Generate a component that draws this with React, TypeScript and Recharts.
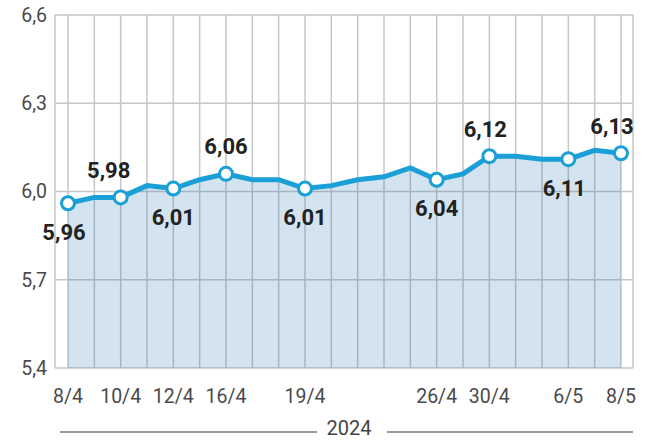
import { AreaChart, Area, XAxis, YAxis, CartesianGrid, LabelList } from 'recharts'

const dates = ['8/4', '9/4', '10/4', '11/4', '12/4', '15/4', '16/4', '17/4', '18/4', '19/4', '22/4', '23/4', '24/4', '25/4', '26/4', '29/4', '30/4', '2/5', '3/5', '6/5', '7/5', '8/5']
const rates = [5.96, 5.98, 5.98, 6.02, 6.01, 6.04, 6.06, 6.04, 6.04, 6.01, 6.02, 6.04, 6.05, 6.08, 6.04, 6.06, 6.12, 6.12, 6.11, 6.11, 6.14, 6.13]
const shownDates = ['8/4', '10/4', '12/4', '16/4', '19/4', '26/4', '30/4', '6/5', '8/5']
const labelsBelow = ['8/4', '12/4', '19/4', '26/4', '6/5']
const yTicks = [5.4, 5.7, 6.0, 6.3, 6.6]
const year = '2024'

const data = dates.map((d, i) => ({ date: d, value: rates[i] }))

const LINE = '#1a9fd6'
const FONT = 'Roboto, "Liberation Sans", sans-serif'
const fmt = (v: number, digits: number) => v.toFixed(digits).replace('.', ',')

// small nudges so labels sit like the printed chart
const labelShift: Record<string, number> = { '8/4': -4, '10/4': -12, '30/4': -4, '6/5': -4, '8/5': -9 }

function renderDot(props: any) {
  const { cx, cy, index } = props
  if (!shownDates.includes(dates[index])) return <g key={`d${index}`} />
  return <circle key={`d${index}`} cx={cx} cy={cy} r={6.5} fill="#fff" stroke={LINE} strokeWidth={3} />
}

function renderLabel(props: any) {
  const { x, y, value, index } = props
  const d = dates[index]
  if (!shownDates.includes(d)) return null
  const below = labelsBelow.includes(d)
  return (
    <text
      x={x + (labelShift[d] || 0)}
      y={below ? y + 29 : y - 27}
      textAnchor="middle"
      dominantBaseline="central"
      fontSize={22}
      fontWeight={700}
      fontFamily={FONT}
      fill="#222"
    >
      {fmt(value, 2)}
    </text>
  )
}

export default function App() {
  return (
    <div style={{ position: 'absolute', left: 0, top: 0, width: 648, height: 444, background: '#fff' }}>
      <AreaChart width={648} height={444} data={data} margin={{ top: 15, right: 15, bottom: 0, left: 0 }}>
        <CartesianGrid stroke="#c6c6c6" strokeWidth={1.5} />
        <XAxis
          dataKey="date"
          interval={0}
          height={76}
          axisLine={false}
          tickLine={false}
          tickMargin={15}
          padding={{ left: 13, right: 12 }}
          tickFormatter={(d: string) => (shownDates.includes(d) ? d : '')}
          tick={{ fill: '#4a4a4a', fontSize: 19.5, fontFamily: FONT }}
        />
        <YAxis
          domain={[5.4, 6.6]}
          ticks={yTicks}
          width={55}
          axisLine={false}
          tickLine={false}
          tickFormatter={(v: number) => fmt(v, 1)}
          tick={{ fill: '#4a4a4a', fontSize: 19.5, fontFamily: FONT }}
        />
        <Area
          type="linear"
          dataKey="value"
          stroke={LINE}
          strokeWidth={5}
          fill="#1670ad"
          fillOpacity={0.19}
          dot={renderDot}
          activeDot={false}
          isAnimationActive={false}
        >
          <LabelList dataKey="value" content={renderLabel} />
        </Area>
      </AreaChart>
      <div style={{ position: 'absolute', left: 60, top: 431, width: 257, height: 2, background: '#9a9a9a' }} />
      <div style={{ position: 'absolute', left: 387, top: 431, width: 246, height: 2, background: '#9a9a9a' }} />
      <div
        style={{
          position: 'absolute',
          left: 300,
          width: 98,
          top: 416,
          textAlign: 'center',
          fontFamily: FONT,
          fontSize: 20,
          color: '#444',
          lineHeight: '24px',
        }}
      >
        {year}
      </div>
    </div>
  )
}
